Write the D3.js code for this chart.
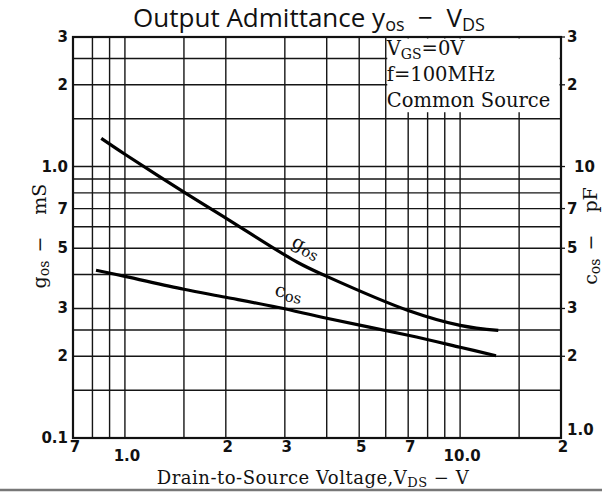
<!DOCTYPE html>
<html>
<head>
<meta charset="utf-8">
<title>Output Admittance yos - VDS</title>
<script src="https://d3js.org/d3.v7.min.js"></script>
<style>
  body { margin: 0; background: #fff; }
  .tick-label { font-family: "DejaVu Sans", sans-serif; font-weight: bold; font-size: 15px; fill: #111; }
  .serif { font-family: "DejaVu Serif", serif; fill: #111; white-space: pre; }
</style>
</head>
<body>
<div id="chart"></div>
<script>
// ---------------- data ----------------
// g_os curve, left axis (mS)
const vdsG = [0.85, 1.0, 1.5, 2.0, 3.27, 4.0, 7.0, 10.0, 13.0];
const gos  = [1.27, 1.11, 0.805, 0.646, 0.444, 0.394, 0.295, 0.26, 0.249];
// c_os curve, right axis (pF)
const vdsC = [0.82, 1.0, 1.5, 2.0, 2.85, 4.0, 7.0, 10.0, 12.8];
const cos  = [4.15, 3.94, 3.53, 3.30, 3.03, 2.76, 2.39, 2.16, 2.01];

// grid lines
const xGrid = [0.7, 0.8, 0.9, 1, 1.5, 2, 3, 4, 5, 6, 7, 8, 9, 10, 15, 20];
const yGrid = [0.1, 0.15, 0.2, 0.25, 0.3, 0.4, 0.5, 0.6, 0.7, 0.8, 0.9, 1, 1.5, 2, 2.5, 3];

// tick labels
const xTicksRow1 = [[0.7, "7"], [2, "2"], [3, "3"], [5, "5"], [7, "7"], [20, "2"]];
const xTicksRow2 = [[1, "1.0"], [10, "10.0"]];
const yLeftTicks = [[3, "3"], [2, "2"], [1, "1.0"], [0.7, "7"], [0.5, "5"], [0.3, "3"], [0.2, "2"], [0.1, "0.1"]];
const yRightTicks = [[30, "3"], [20, "2"], [10, "10"], [7, "7"], [5, "5"], [3, "3"], [2, "2"], [1.07, "1.0"]];

const conditions = ["V|GS|=0V", "f=100MHz", "Common Source"];

// ---------------- svg ----------------
const width = 602, height = 495;
const pL = 73, pR = 561, pT = 37, pB = 438;

const svg = d3.select("#chart").append("svg")
    .attr("width", width)
    .attr("height", height);

const x = d3.scaleLog().domain([0.7, 20]).range([pL, pR]);
const yL = d3.scaleLog().domain([0.1, 3]).range([pB, pT]);
const yR = d3.scaleLog().domain([1, 30]).range([pB, pT]);

// ---------------- grid ----------------
const grid = svg.append("g").attr("stroke", "#151515").attr("stroke-width", 1.4);
grid.selectAll(".vx").data(xGrid).enter().append("line")
    .attr("x1", d => x(d)).attr("x2", d => x(d))
    .attr("y1", pT).attr("y2", pB);
grid.selectAll(".hy").data(yGrid).enter().append("line")
    .attr("x1", pL).attr("x2", pR)
    .attr("y1", d => yL(d)).attr("y2", d => yL(d));

// outer ticks
svg.append("g").attr("stroke", "#151515").attr("stroke-width", 1.3)
  .selectAll("line").data(yRightTicks.slice(0, 7)).enter().append("line")
    .attr("x1", pR).attr("x2", pR + 4)
    .attr("y1", d => yR(d[0])).attr("y2", d => yR(d[0]));

// condition box covering the grid
const box = svg.append("g");
box.append("rect")
    .attr("x", x(6) + 1.5).attr("y", pT + 1.5)
    .attr("width", pR - x(6) - 3).attr("height", yL(1.5) - pT - 8)
    .attr("fill", "#fff");

// frame
svg.append("rect")
    .attr("x", pL).attr("y", pT)
    .attr("width", pR - pL).attr("height", pB - pT)
    .attr("fill", "none").attr("stroke", "#111").attr("stroke-width", 2.2);

// condition text
conditions.forEach((t, i) => {
  const parts = t.split("|");
  const txt = box.append("text").attr("class", "serif")
      .attr("x", x(6) + 1).attr("y", 55 + i * 26)
      .attr("font-size", "19.5px");
  if (parts.length > 1) {
    txt.append("tspan").text(parts[0]);
    txt.append("tspan").attr("font-size", "14px").attr("dy", 4).text(parts[1]);
    txt.append("tspan").attr("dy", -4).text(parts[2]);
  } else {
    txt.text(t);
  }
});

// ---------------- curves ----------------
const lineG = d3.line().curve(d3.curveCatmullRom)
    .x(d => x(d[0])).y(d => yL(d[1]));
const lineC = d3.line().curve(d3.curveCatmullRom)
    .x(d => x(d[0])).y(d => yR(d[1]));

svg.append("path")
    .datum(d3.zip(vdsG, gos))
    .attr("d", lineG)
    .attr("fill", "none").attr("stroke", "#000").attr("stroke-width", 3.2);
svg.append("path")
    .datum(d3.zip(vdsC, cos))
    .attr("d", lineC)
    .attr("fill", "none").attr("stroke", "#000").attr("stroke-width", 3.2);

// curve labels
function curveLabel(px, py, ang, main, sub) {
  const t = svg.append("text").attr("class", "serif")
      .attr("transform", `translate(${px},${py}) rotate(${ang})`)
      .attr("font-size", "19px");
  t.append("tspan").text(main);
  t.append("tspan").attr("font-size", "15px").attr("dy", 3).text(sub);
}
curveLabel(x(3.1) + 1, yL(0.49) - 5, 28, "g", "os");
curveLabel(x(2.6) + 10, yR(3.2) - 5, 11, "c", "os");

// ---------------- tick labels ----------------
svg.append("g").selectAll("text").data(yLeftTicks).enter().append("text")
    .attr("class", "tick-label")
    .attr("x", pL - 5).attr("y", d => yL(d[0]) + 5)
    .attr("text-anchor", "end")
    .text(d => d[1]);

svg.append("g").selectAll("text").data(yRightTicks).enter().append("text")
    .attr("class", "tick-label")
    .attr("x", d => pR + (d[1] === "10" ? 13 : 6)).attr("y", d => yR(d[0]) + 5)
    .text(d => d[1]);

svg.append("g").selectAll("text").data(xTicksRow1).enter().append("text")
    .attr("class", "tick-label")
    .attr("x", d => x(d[0]) + 2).attr("y", pB + 14)
    .attr("text-anchor", "middle")
    .text(d => d[1]);

svg.append("g").selectAll("text").data(xTicksRow2).enter().append("text")
    .attr("class", "tick-label")
    .attr("x", d => x(d[0]) + 2).attr("y", pB + 23)
    .attr("text-anchor", "middle")
    .text(d => d[1]);

// ---------------- titles ----------------
const title = svg.append("text")
    .attr("x", 309).attr("y", 27)
    .attr("text-anchor", "middle")
    .attr("font-family", "'Open Sans', sans-serif")
    .attr("font-size", "26px").attr("fill", "#111")
    .style("white-space", "pre");
title.append("tspan").text("Output Admittance y");
title.append("tspan").attr("font-size", "18px").attr("dy", 4).text("os");
title.append("tspan").attr("dy", -4).text("  \u2212  V");
title.append("tspan").attr("font-size", "18px").attr("dy", 4).text("DS");

const xt = svg.append("text").attr("class", "serif")
    .attr("x", 313).attr("y", 484)
    .attr("text-anchor", "middle")
    .attr("font-size", "18px")
    .attr("letter-spacing", "0.5px");
xt.append("tspan").text("Drain-to-Source Voltage,V");
xt.append("tspan").attr("font-size", "13px").attr("dy", 3).text("DS");
xt.append("tspan").attr("dy", -3).text(" \u2212 V");

function yTitle(px, main, sub, unit) {
  const t = svg.append("text").attr("class", "serif")
      .attr("transform", `translate(${px},236) rotate(-90)`)
      .attr("text-anchor", "middle")
      .attr("font-size", "19px");
  t.append("tspan").text(main);
  t.append("tspan").attr("font-size", "14px").attr("dy", 3).text(sub);
  t.append("tspan").attr("dy", -3).attr("dx", 8).text("\u2212");
  t.append("tspan").attr("dx", 22).text(unit);
}
yTitle(46, "g", "os", "mS");
yTitle(597, "c", "os", "pF");

// bottom rule
svg.append("line")
    .attr("x1", 0).attr("x2", width)
    .attr("y1", 490).attr("y2", 490)
    .attr("stroke", "#777").attr("stroke-width", 2.5);
</script>
</body>
</html>
